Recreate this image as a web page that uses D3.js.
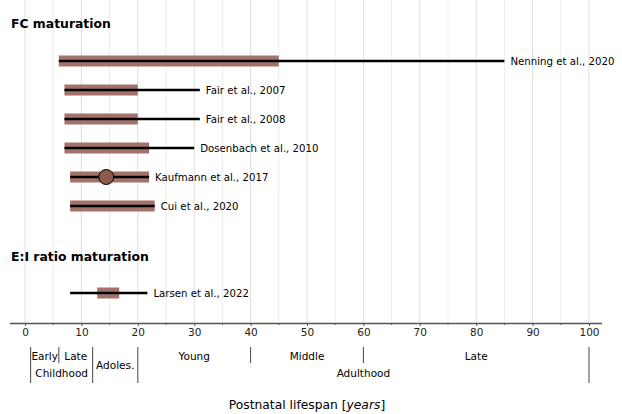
<!DOCTYPE html>
<html>
<head>
<meta charset="utf-8">
<script src="https://cdn.jsdelivr.net/npm/d3@7"></script>
<style>
  html, body { margin: 0; padding: 0; background: #fff; }
  svg { display: block; font-family: "DejaVu Sans", sans-serif; }
</style>
</head>
<body>
<svg id="chart" width="622" height="414"></svg>
<script>
// Studies: age range of the maturation window (bar) and sampled age range (line)
const studies = ["Nenning et al., 2020", "Fair et al., 2007", "Fair et al., 2008",
                 "Dosenbach et al., 2010", "Kaufmann et al., 2017", "Cui et al., 2020",
                 "Larsen et al., 2022"];
const groups = ["FC", "FC", "FC", "FC", "FC", "FC", "EI"];
const sampleStart = [6, 7, 7, 7, 8, 8, 8];
const sampleEnd = [85, 31, 31, 30, 22, 23, 21.7];
const matStart = [6, 7, 7, 7, 8, 8, 12.8];
const matEnd = [45, 20, 20, 22, 22, 23, 16.7];
const peakAge = [null, null, null, null, 14.4, null, null];

const sectionTitles = ["FC maturation", "E:I ratio maturation"];

// Life stage annotation below the axis
const stageBounds = [1, 6, 12, 20, 40, 60, 100];
const stageBoundLong = [true, false, true, true, false, false, true];
const stageLabels = [
  {text: "Early", at: 3.5, row: 0},
  {text: "Late", at: 9, row: 0},
  {text: "Childhood", at: 6.5, row: 1},
  {text: "Adoles.", at: 16, row: 0.5},
  {text: "Young", at: 30, row: 0},
  {text: "Middle", at: 50, row: 0},
  {text: "Late", at: 80, row: 0},
  {text: "Adulthood", at: 60, row: 1}
];

const tickValues = d3.range(0, 101, 10);
const minorTicks = d3.range(5, 100, 10);

const svg = d3.select("#chart");
const x = d3.scaleLinear().domain([0, 100]).range([25, 589]);
const rowY = d3.scaleOrdinal().domain(studies).range([61, 90, 119, 148, 177, 206, 293]);
const axisY = 323;

// Grid lines every 5 years
svg.append("g").selectAll("line")
  .data(d3.range(0, 101, 5))
  .join("line")
  .attr("x1", d => x(d)).attr("x2", d => x(d))
  .attr("y1", 0).attr("y2", axisY)
  .attr("stroke", d => d % 10 === 0 ? "#dedede" : "#ececec")
  .attr("stroke-width", 1);

// Section titles
svg.append("text").attr("x", 11).attr("y", 28)
  .attr("font-size", 12.4).attr("font-weight", "bold").text(sectionTitles[0]);
svg.append("text").attr("x", 11).attr("y", 261)
  .attr("font-size", 12.4).attr("font-weight", "bold").text(sectionTitles[1]);

const barColor = "#a3736b";
const rows = studies.map((s, i) => ({s, i}));

// Maturation window bars
svg.append("g").selectAll("rect")
  .data(rows)
  .join("rect")
  .attr("x", d => x(matStart[d.i]))
  .attr("width", d => x(matEnd[d.i]) - x(matStart[d.i]))
  .attr("y", d => rowY(d.s) - 5.5)
  .attr("height", 11)
  .attr("fill", barColor);

// Sampled age range lines
svg.append("g").selectAll("line")
  .data(rows)
  .join("line")
  .attr("x1", d => x(sampleStart[d.i]))
  .attr("x2", d => x(sampleEnd[d.i]))
  .attr("y1", d => rowY(d.s)).attr("y2", d => rowY(d.s))
  .attr("stroke", "#000").attr("stroke-width", 2.5);

// Peak marker
svg.append("g").selectAll("circle")
  .data(rows.filter(d => peakAge[d.i] !== null))
  .join("circle")
  .attr("cx", d => x(peakAge[d.i]))
  .attr("cy", d => rowY(d.s))
  .attr("r", 7.5)
  .attr("fill", "#8e5a4c")
  .attr("stroke", "#000").attr("stroke-width", 1);

// Study labels
svg.append("g").selectAll("text")
  .data(rows)
  .join("text")
  .attr("x", d => x(Math.max(sampleEnd[d.i], matEnd[d.i])) + 6)
  .attr("y", d => rowY(d.s) + 4)
  .attr("font-size", 10.2)
  .text(d => d.s);

// Axis
const axis = d3.axisBottom(x).tickValues(tickValues).tickSize(3).tickPadding(3);
const ax = svg.append("g").attr("transform", `translate(0,${axisY})`).call(axis);
ax.select(".domain").attr("d", `M10,0.5H602`).attr("stroke", "#555").attr("stroke-width", 1.5);
ax.selectAll(".tick line").attr("stroke", "#555");
ax.selectAll(".tick text").attr("font-size", 10.5).attr("font-family", "DejaVu Sans").attr("fill", "#222");
svg.append("g").selectAll("line")
  .data(minorTicks)
  .join("line")
  .attr("x1", d => x(d)).attr("x2", d => x(d))
  .attr("y1", axisY).attr("y2", axisY + 2)
  .attr("stroke", "#555");

// Life stage separators and labels
svg.append("g").selectAll("line")
  .data(stageBounds.map((v, i) => ({v, long: stageBoundLong[i]})))
  .join("line")
  .attr("x1", d => x(d.v)).attr("x2", d => x(d.v))
  .attr("y1", 347).attr("y2", d => d.long ? 383 : 363)
  .attr("stroke", "#444").attr("stroke-width", 1);

svg.append("g").selectAll("text")
  .data(stageLabels)
  .join("text")
  .attr("x", d => x(d.at))
  .attr("y", d => 360 + d.row * 17)
  .attr("text-anchor", "middle")
  .attr("font-size", 10.5)
  .text(d => d.text);

// Axis title
const title = svg.append("text").attr("x", x(50)).attr("y", 409)
  .attr("text-anchor", "middle").attr("font-size", 12.3);
title.append("tspan").text("Postnatal lifespan [");
title.append("tspan").attr("font-style", "italic").text("years");
title.append("tspan").text("]");
</script>
</body>
</html>
